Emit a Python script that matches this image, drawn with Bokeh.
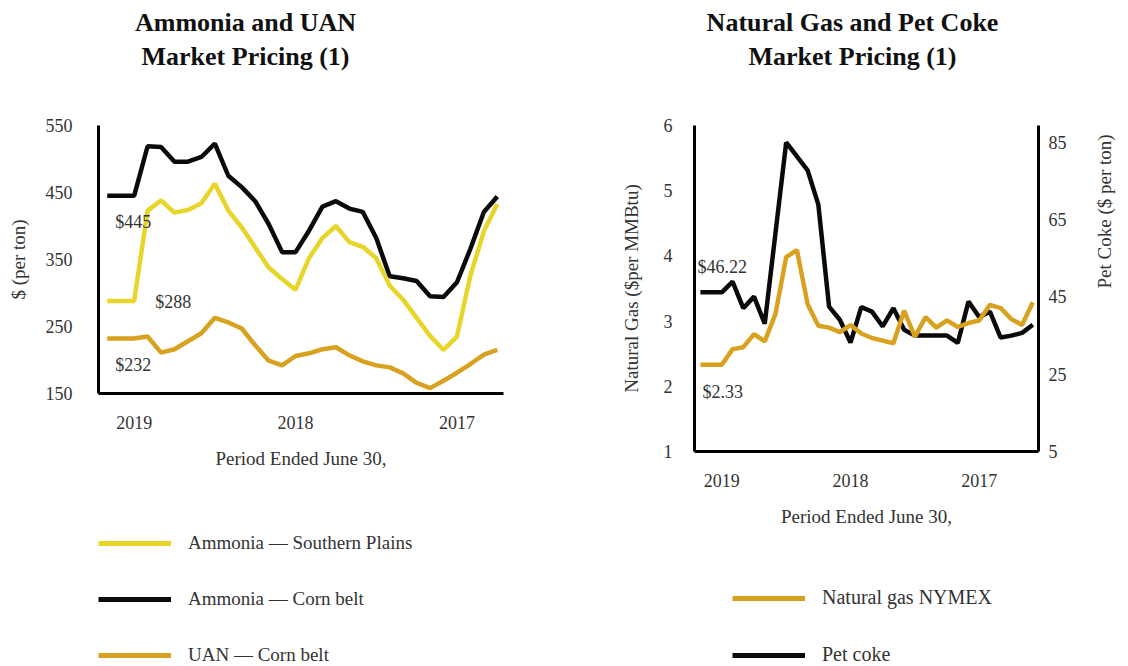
import math
from bokeh.plotting import figure
from bokeh.models import Range1d, LinearAxis, FixedTicker, Legend, LegendItem, Label
from bokeh.layouts import row, column
from bokeh.embed import file_html
from bokeh.resources import INLINE
from bokeh.core.properties import value

FONT = "Liberation Serif"
TXT = "#333333"
YELLOW = "#E8D52A"
GOLD = "#D8A220"
BLACK = "#0a0a0a"

# ---------------- Left chart data ----------------
left_title = "Ammonia and UAN\nMarket Pricing (1)"
left_x_ticks = [2, 14, 26]
left_x_labels = ["2019", "2018", "2017"]
left_y_ticks = [150, 250, 350, 450, 550]
ammonia_southern_plains = [288, 288, 288, 423, 438, 420, 424, 434, 463, 423, 398, 368, 338, 321, 305,
                           352, 382, 400, 376, 369, 352, 311, 290, 263, 236, 215, 235, 326, 392, 433]
ammonia_corn_belt = [445, 445, 445, 519, 518, 496, 496, 503, 523, 475, 458, 437, 403, 361, 361,
                     393, 429, 437, 426, 421, 382, 325, 322, 318, 295, 294, 316, 366, 421, 444]
uan_corn_belt = [232, 232, 232, 235, 211, 216, 228, 240, 263, 256, 247, 222, 199, 192, 206,
                 210, 216, 219, 207, 198, 192, 189, 180, 166, 158, 169, 181, 194, 208, 215]

# ---------------- Right chart data ----------------
right_title = "Natural Gas and Pet Coke\nMarket Pricing (1)"
right_x_ticks = [2, 14, 26]
right_x_labels = ["2019", "2018", "2017"]
gas_ticks = [1, 2, 3, 4, 5, 6]
coke_ticks = [5, 25, 45, 65, 85]
natural_gas = [2.33, 2.33, 2.33, 2.57, 2.60, 2.80, 2.69, 3.11, 3.98, 4.09, 3.26, 2.93, 2.90, 2.83, 2.94, 2.81,
               2.74, 2.70, 2.66, 3.16, 2.76, 3.06, 2.90, 3.01, 2.91, 2.97, 3.01, 3.25, 3.20, 3.03, 2.94, 3.29]
pet_coke = [46.22, 46.22, 46.22, 49.0, 42.1, 45.1, 38.1, 61.5, 85.0, 81.4, 77.8, 68.9, 42.5, 39.1, 33.2, 42.4,
            41.2, 37.4, 42.1, 36.5, 35.0, 35.0, 35.0, 35.0, 33.1, 43.8, 39.8, 41.2, 34.5, 35.0, 35.7, 37.8]

LW = 4.5


def style_axis(ax, label_standoff, axis_label_standoff):
    ax.axis_line_width = 3
    ax.axis_line_color = "black"
    ax.major_tick_line_color = None
    ax.minor_tick_line_color = None
    ax.major_label_text_font = FONT
    ax.major_label_text_font_size = "18px"
    ax.major_label_text_color = TXT
    ax.major_label_standoff = label_standoff
    ax.axis_label_text_font = FONT
    ax.axis_label_text_font_size = "19px"
    ax.axis_label_text_font_style = "normal"
    ax.axis_label_text_color = TXT
    ax.axis_label_standoff = axis_label_standoff


def blank_fig(width, height, xr=(0, 1)):
    f = figure(width=width, height=height, title=None, toolbar_location=None, output_backend="svg",
               x_axis_location=None, y_axis_location=None,
               x_range=Range1d(*xr), y_range=Range1d(0, 1),
               min_border_left=0, min_border_right=0, min_border_top=0, min_border_bottom=0)
    f.outline_line_color = None
    f.grid.visible = False
    return f


def header(width, text, cx):
    # frame of this figure is aligned with the chart frame below it
    h = blank_fig(width, 113)
    h.add_layout(Label(x=cx, y=106, x_units="screen", y_units="screen", text=text,
                       text_align="center", text_baseline="top", text_font=FONT,
                       text_font_size="26px", text_font_style="bold", text_color="#111111",
                       text_line_height=1.18))
    return h


def legend_fig(width, height, entries, loc, size, spacing):
    # swatch renderers hold the series but lie outside this figure's visible range
    f = blank_fig(width, height, xr=(-10, -9))
    items = []
    for label, xs, ys, color, rng in entries:
        r = f.line(xs, ys, line_color=color, line_width=LW + 0.5)
        items.append(LegendItem(label=label, renderers=[r]))
    lg = Legend(items=items, location=loc, orientation="vertical",
                glyph_width=73, glyph_height=22, label_height=22, label_standoff=17,
                spacing=spacing, padding=0, margin=0, border_line_color=None,
                background_fill_alpha=0, label_text_font=FONT, label_text_font_size=size,
                label_text_color=TXT)
    f.add_layout(lg)
    return f


# ================= LEFT COLUMN =================
lx = list(range(len(ammonia_corn_belt)))
p1 = figure(width=560, height=368, title=None, toolbar_location=None, output_backend="svg",
            x_range=Range1d(-0.65, 29.46), y_range=Range1d(150, 550),
            min_border_left=98, min_border_right=57, min_border_top=12, min_border_bottom=88)
p1.outline_line_color = None
p1.xgrid.visible = False
p1.ygrid.visible = False

r_cb = p1.line(lx, ammonia_corn_belt, line_color=BLACK, line_width=LW)
r_sp = p1.line(lx, ammonia_southern_plains, line_color=YELLOW, line_width=LW)
r_uan = p1.line(lx, uan_corn_belt, line_color=GOLD, line_width=LW)

p1.xaxis.ticker = FixedTicker(ticks=left_x_ticks)
p1.xaxis.major_label_overrides = dict(zip(left_x_ticks, left_x_labels))
p1.xaxis.axis_label = "Period Ended June 30,"
p1.yaxis.ticker = FixedTicker(ticks=left_y_ticks)
p1.yaxis.axis_label = "$ (per ton)"
style_axis(p1.xaxis[0], 16, 16)
style_axis(p1.yaxis[0], 20, 14)

for series, dx, dy in [(ammonia_corn_belt, 8, 26), (ammonia_southern_plains, 48, 1), (uan_corn_belt, 8, 26)]:
    p1.text(x=[lx[0]], y=[series[0]], text=[f"${series[0]:.0f}"], x_offset=dx, y_offset=dy,
            text_font=value(FONT), text_font_size="18px", text_color=TXT,
            text_align="left", text_baseline="middle")

h1 = header(560, left_title, 147)
l1 = legend_fig(560, 185, [
    ("Ammonia — Southern Plains", lx, ammonia_southern_plains, YELLOW, None),
    ("Ammonia — Corn belt", lx, ammonia_corn_belt, BLACK, None),
    ("UAN — Corn belt", lx, uan_corn_belt, GOLD, None),
], (0, 0), "19px", 34)

# ================= RIGHT COLUMN =================
rx = list(range(len(natural_gas)))
p2 = figure(width=568, height=426, title=None, toolbar_location=None, output_backend="svg",
            x_range=Range1d(-0.55, 31.53), y_range=Range1d(1, 6),
            min_border_left=134, min_border_right=84, min_border_top=12, min_border_bottom=88)
p2.outline_line_color = None
p2.xgrid.visible = False
p2.ygrid.visible = False
p2.extra_y_ranges = {"coke": Range1d(5, 89.4)}
right_axis = LinearAxis(y_range_name="coke", ticker=FixedTicker(ticks=coke_ticks),
                        axis_label="Pet Coke ($ per ton)")
p2.add_layout(right_axis, "right")

r_pc = p2.line(rx, pet_coke, line_color=BLACK, line_width=LW, y_range_name="coke")
r_ng = p2.line(rx, natural_gas, line_color=GOLD, line_width=LW)

p2.xaxis.ticker = FixedTicker(ticks=right_x_ticks)
p2.xaxis.major_label_overrides = dict(zip(right_x_ticks, right_x_labels))
p2.xaxis.axis_label = "Period Ended June 30,"
p2.yaxis[0].ticker = FixedTicker(ticks=gas_ticks)
p2.yaxis[0].axis_label = "Natural Gas ($per MMBtu)"
style_axis(p2.xaxis[0], 16, 16)
style_axis(p2.yaxis[0], 16, 19)
style_axis(right_axis, 4, 35)
if "axis_label_orientation" in right_axis.properties():
    right_axis.axis_label_orientation = math.pi / 2

p2.text(x=[rx[0]], y=[pet_coke[0]], text=[f"${pet_coke[0]:.2f}"], x_offset=-3, y_offset=-25,
        y_range_name="coke", text_font=value(FONT), text_font_size="18px", text_color=TXT,
        text_align="left", text_baseline="middle")
p2.text(x=[rx[0]], y=[natural_gas[0]], text=[f"${natural_gas[0]:.2f}"], x_offset=2, y_offset=27,
        text_font=value(FONT), text_font_size="18px", text_color=TXT,
        text_align="left", text_baseline="middle")

h2 = header(568, right_title, 158)
l2 = legend_fig(568, 127, [
    ("Natural gas NYMEX", rx, natural_gas, GOLD, None),
    ("Pet coke", rx, pet_coke, BLACK, None),
], (38, 0), "20px", 34)

layout = row(column(h1, p1, l1), column(h2, p2, l2))
open("out.html", "w").write(file_html(layout, INLINE))
